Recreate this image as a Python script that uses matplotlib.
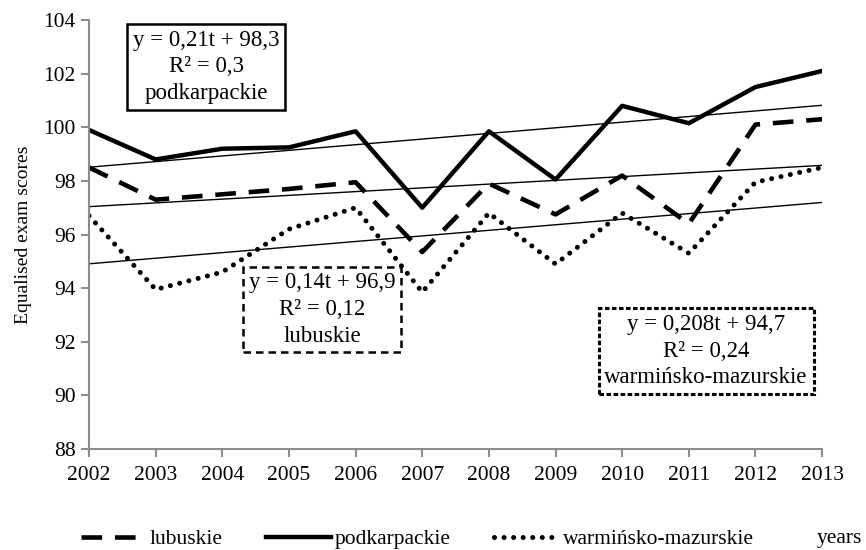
import matplotlib
matplotlib.use('Agg')
import matplotlib.pyplot as plt
import numpy as np

plt.rcParams['font.family'] = ['Liberation Serif', 'DejaVu Serif']

years = np.arange(2002, 2014)
t = np.arange(1, 13)

podkarpackie = [99.9, 98.8, 99.2, 99.25, 99.85, 97.0, 99.85, 98.05, 100.8, 100.15, 101.5, 102.1]
lubuskie = [98.5, 97.3, 97.5, 97.7, 97.95, 95.35, 97.9, 96.75, 98.2, 96.4, 100.1, 100.3]
warminsko = [96.7, 93.95, 94.6, 96.2, 97.0, 93.85, 96.8, 94.9, 96.8, 95.3, 97.95, 98.5]

# trend coefficients (slope, intercept) as printed on the chart
trend_podk = (0.21, 98.3)
trend_lub = (0.14, 96.9)
trend_war = (0.208, 94.7)

fig = plt.figure(figsize=(8.66, 5.5), dpi=100)
ax = fig.add_axes([0.1028, 0.1836, 0.8465, 0.78])

l1, = ax.plot(years, lubuskie, color='black', lw=3.3, dashes=(4.5, 2.8), label='lubuskie')
l2, = ax.plot(years, podkarpackie, color='black', lw=3.2, label='podkarpackie')
l3, = ax.plot(years, warminsko, color='black', lw=3.6, dashes=(0.01, 1.9),
              dash_capstyle='round', label='warmińsko-mazurskie')

for a, b in (trend_podk, trend_lub, trend_war):
    ax.plot(years, a * t + b, color='black', lw=1.0)

ax.set_xlim(2002, 2013)
ax.set_ylim(88, 104)
ax.set_xticks(years)
ax.set_yticks(np.arange(88, 105, 2))
for s in ('top', 'right'):
    ax.spines[s].set_visible(False)
for s in ('left', 'bottom'):
    ax.spines[s].set_color('#8c8c8c')
    ax.spines[s].set_linewidth(1.5)
ax.tick_params(colors='#8c8c8c', labelcolor='black', labelsize=15.5, length=6, width=1.5)
ax.tick_params(axis='x', pad=6)
ax.set_ylabel('Equalised exam scores', fontsize=14, labelpad=8)

box_font = 16.5
ax.text(2003.76, 102.25, 'y = 0,21t + 98,3\nR² = 0,3\npodkarpackie', ha='center', va='center',
        fontsize=box_font, linespacing=1.35,
        bbox=dict(boxstyle='square,pad=0.25', fc='white', ec='black', lw=1.8))
ax.text(2005.5, 93.2, 'y = 0,14t + 96,9\nR² = 0,12\nlubuskie', ha='center', va='center',
        fontsize=box_font, linespacing=1.35,
        bbox=dict(boxstyle='square,pad=0.25', fc='white', ec='black', lw=1.8, ls=(0, (3, 2))))
ax.text(2011.26, 91.65, 'y = 0,208t + 94,7\nR² = 0,24\nwarmińsko-mazurskie', ha='center', va='center',
        fontsize=box_font, linespacing=1.35,
        bbox=dict(boxstyle='square,pad=0.25', fc='white', ec='black', lw=2.2, ls=(0, (1.5, 0.8))))

fig.legend(handles=[l1, l2, l3], loc='center', bbox_to_anchor=(0.482, 0.02), ncol=3,
           frameon=False, fontsize=15.5, handlelength=3.0, columnspacing=2.0, handletextpad=0.2)
fig.text(0.995, 0.02, 'years', ha='right', va='center', fontsize=15.5)

fig.savefig('out.png', dpi=100)
